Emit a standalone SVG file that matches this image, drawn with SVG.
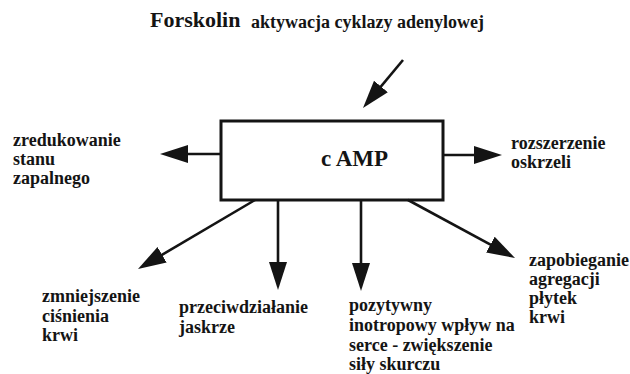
<svg xmlns="http://www.w3.org/2000/svg" width="630" height="374" viewBox="0 0 630 374" font-family="'Liberation Serif', 'DejaVu Serif', serif">
<style>
text{font-family:'Liberation Serif','DejaVu Serif',serif;font-weight:700;fill:#141414;}
.t{font-size:18px;}
.c{stroke:#141414;stroke-width:2.6;fill:none;}
</style>
<defs>
<marker id="ah" markerUnits="userSpaceOnUse" markerWidth="30" markerHeight="20" refX="18" refY="9" orient="auto">
<path d="M0,0 L28,9 L0,18 Z" fill="#141414"/>
</marker>
</defs>
<rect width="630" height="374" fill="#fff"/>
<g id="title">
<text x="150" y="27" style="font-size:22px">Forskolin</text>
<text x="251" y="28" class="t">aktywacja cyklazy adenylowej</text>
</g>
<g id="camp">
<rect x="221" y="121" width="222" height="79" fill="#fff" stroke="#141414" stroke-width="3"/>
<text x="321" y="166" style="font-size:23px">c AMP</text>
</g>
<g id="connectors">
<line class="c" x1="403" y1="60" x2="369.4" y2="100.3" marker-end="url(#ah)"/>
<line class="c" x1="220" y1="154" x2="170" y2="154" marker-end="url(#ah)"/>
<line class="c" x1="443" y1="155" x2="492" y2="155" marker-end="url(#ah)"/>
<line class="c" x1="255" y1="200" x2="146.6" y2="263.9" marker-end="url(#ah)"/>
<line class="c" x1="278" y1="200" x2="278" y2="280" marker-end="url(#ah)"/>
<line class="c" x1="361" y1="200" x2="361" y2="281" marker-end="url(#ah)"/>
<line class="c" x1="408" y1="200" x2="506.2" y2="253.2" marker-end="url(#ah)"/>
</g>
<g id="zapalny">
<text class="t" x="13" y="146">zredukowanie</text>
<text class="t" x="13" y="165">stanu</text>
<text class="t" x="13" y="184">zapalnego</text>
</g>
<g id="oskrzela">
<text class="t" x="511" y="149">rozszerzenie</text>
<text class="t" x="511" y="168">oskrzeli</text>
</g>
<g id="cisnienie">
<text class="t" x="42" y="302">zmniejszenie</text>
<text class="t" x="42" y="322">ciśnienia</text>
<text class="t" x="42" y="341">krwi</text>
</g>
<g id="jaskra">
<text class="t" x="179" y="313">przeciwdziałanie</text>
<text class="t" x="179" y="333">jaskrze</text>
</g>
<g id="serce">
<text class="t" x="349" y="311">pozytywny</text>
<text class="t" x="349" y="331">inotropowy wpływ na</text>
<text class="t" x="349" y="351">serce - zwiększenie</text>
<text class="t" x="349" y="370">siły skurczu</text>
</g>
<g id="plytki">
<text class="t" x="529" y="266">zapobieganie</text>
<text class="t" x="529" y="285">agregacji</text>
<text class="t" x="529" y="304">płytek</text>
<text class="t" x="529" y="323">krwi</text>
</g>
</svg>
